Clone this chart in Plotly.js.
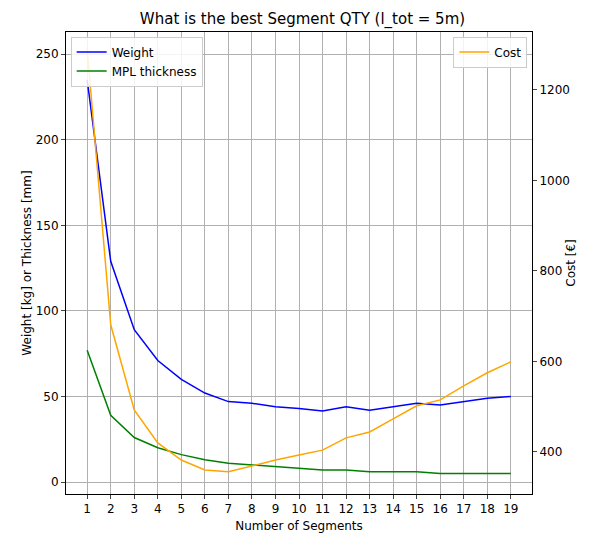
<html><head><script src="https://cdn.plot.ly/plotly-3.0.1.min.js"></script></head>
<body style="margin:0"><div id="plotDiv" style="width:605px;height:547px"></div>
<script>
var segments = [1,2,3,4,5,6,7,8,9,10,11,12,13,14,15,16,17,18,19];
var weight = [235,129,89,71,60,52,47,46,44,43,41.5,44,42,44,46,45,47,49,50];
var mplThickness = [77,39,26,20,16,13,11,10,9,8,7,7,6,6,6,5,5,5,5];
var cost = [1290,681,493,420,382,360,356,369,382,393,404,431,444,473,502,515,546,575,599];

function makePlot(){
  var font = {family:'DejaVu Sans', size:12, color:'#000'};
  var trace1 = {x:segments, y:weight, name:'Weight', mode:'lines', line:{color:'#0000ff', width:1.5}, legend:'legend'};
  var trace2 = {x:segments, y:mplThickness, name:'MPL thickness', mode:'lines', line:{color:'#008000', width:1.5}, legend:'legend'};
  var trace3 = {x:segments, y:cost, name:'Cost', mode:'lines', line:{color:'#ffa500', width:1.5}, yaxis:'y2', legend:'legend2'};

  var legendStyle = {bgcolor:'rgba(255,255,255,0.85)', bordercolor:'#ccc', borderwidth:1, font:{family:'DejaVu Sans', size:12}, tracegroupgap:0};
  var layout = {
    width:605, height:547,
    margin:{l:66, r:73, t:32, b:53},
    font:font,
    paper_bgcolor:'#fff', plot_bgcolor:'#fff',
    title:{text:'What is the best Segment QTY (l_tot = 5m)', font:{family:'DejaVu Sans', size:15}, x:0.5, y:0.975, yanchor:'top'},
    xaxis:{title:{text:'Number of Segments', font:{size:12}, standoff:6}, tickvals:segments, range:[0.1,19.9],
      showgrid:true, gridcolor:'#b0b0b0', zeroline:false, showline:true, linecolor:'#000', mirror:true, ticks:'outside', ticklen:4},
    yaxis:{title:{text:'Weight [kg] or Thickness [mm]', font:{size:12}}, range:[-7,263], dtick:50,
      showgrid:true, gridcolor:'#b0b0b0', zeroline:false, showline:true, linecolor:'#000', ticks:'outside', ticklen:4},
    yaxis2:{title:{text:'Cost [€]', font:{size:12}}, overlaying:'y', side:'right', range:[307,1328], dtick:200,
      showgrid:false, zeroline:false, showline:true, linecolor:'#000', ticks:'outside', ticklen:4},
    legend:Object.assign({x:0.01, y:0.99, xanchor:'left', yanchor:'top'}, legendStyle),
    legend2:Object.assign({x:0.99, y:0.99, xanchor:'right', yanchor:'top'}, legendStyle)
  };
  Plotly.newPlot('plotDiv', [trace1, trace2, trace3], layout, {displayModeBar:false});
}
makePlot();
</script></body></html>
